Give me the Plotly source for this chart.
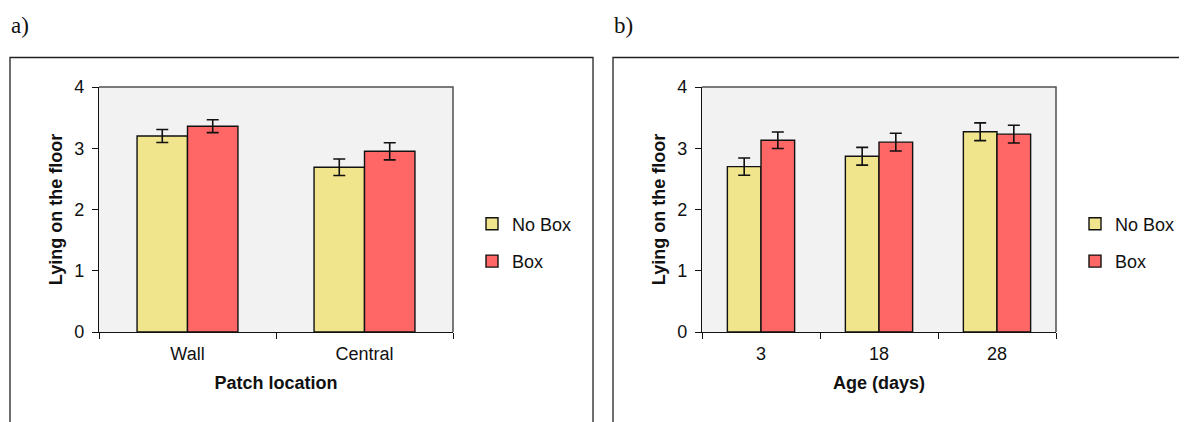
import plotly.graph_objects as go

W, H = 1187, 422
OFF = 8  # page body offset of the figure in the browser

# Panel a data
loc_categories = ["Wall", "Central"]
loc_nobox = [3.20, 2.69]
loc_nobox_err = [0.105, 0.135]
loc_box = [3.36, 2.95]
loc_box_err = [0.105, 0.14]

# Panel b data
age_categories = ["3", "18", "28"]
age_nobox = [2.70, 2.87, 3.27]
age_nobox_err = [0.14, 0.145, 0.145]
age_box = [3.13, 3.10, 3.23]
age_box_err = [0.135, 0.145, 0.145]

y_ticks = [0, 1, 2, 3, 4]
series_names = ["No Box", "Box"]
colors = ["#F0E48C", "#FF6666"]

FONT = "Liberation Sans, Arial, sans-serif"

def px_x(p):
    return (p - OFF) / W

def px_y(p):
    return (H - (p - OFF)) / H

fig = go.Figure()

def add_bars(cats, vals, errs, name, color, xa, ya, legend):
    fig.add_trace(go.Bar(
        x=cats, y=vals, name=name,
        marker=dict(color=color, line=dict(color="#111111", width=1.4)),
        error_y=dict(type="data", array=errs, color="#111111", thickness=1.6, width=6),
        xaxis=xa, yaxis=ya, legend=legend, legendgroup=name,
    ))

add_bars(loc_categories, loc_nobox, loc_nobox_err, series_names[0], colors[0], "x", "y", "legend")
add_bars(loc_categories, loc_box, loc_box_err, series_names[1], colors[1], "x", "y", "legend")
add_bars(age_categories, age_nobox, age_nobox_err, series_names[0], colors[0], "x2", "y2", "legend2")
add_bars(age_categories, age_box, age_box_err, series_names[1], colors[1], "x2", "y2", "legend2")

ydom = [px_y(332), px_y(87)]

def xaxis_cfg(dom, title, anchor):
    return dict(
        domain=dom, anchor=anchor, type="category", automargin=False,
        showline=True, linecolor="#111111", linewidth=1.4, mirror=False,
        ticks="outside", tickson="boundaries", ticklen=6, tickcolor="#111111", tickwidth=1.4,
        ticklabelstandoff=5,
        tickfont=dict(family=FONT, size=18, color="#111111"),
        title=dict(text=title, font=dict(family=FONT, size=18, color="#111111", weight="bold"), standoff=13),
        showgrid=False, zeroline=False, fixedrange=True,
    )

def yaxis_cfg(anchor):
    return dict(
        domain=ydom, anchor=anchor, range=[0, 4], tickvals=y_ticks, automargin=False,
        showline=True, linecolor="#111111", linewidth=1.4,
        ticks="outside", ticklen=6, tickcolor="#111111", tickwidth=1.4,
        ticklabelstandoff=4,
        tickfont=dict(family=FONT, size=18, color="#111111"),
        title=dict(text="Lying on the floor", font=dict(family=FONT, size=18, color="#111111", weight="bold"), standoff=6),
        showgrid=False, zeroline=False, fixedrange=True,
    )

shapes = []
# outer panel frames
for left, right in [(10, 593), (613, 1210)]:
    shapes.append(dict(type="rect", xref="paper", yref="paper",
                       x0=px_x(left), x1=px_x(right), y0=px_y(440), y1=px_y(57.5),
                       line=dict(color="#222222", width=1.3), fillcolor="rgba(0,0,0,0)", layer="below"))
# plot area backgrounds + frames
for xr, yr in [("x domain", "y domain"), ("x2 domain", "y2 domain")]:
    shapes.append(dict(type="rect", xref=xr, yref=yr, x0=0, x1=1, y0=0, y1=1,
                       fillcolor="#F2F2F2", line=dict(width=0), layer="below"))
    shapes.append(dict(type="path", xref=xr, yref=yr, path="M 0,1 L 1,1 L 1,0",
                       line=dict(color="#505050", width=1.5), layer="above"))

legend_common = dict(
    font=dict(family=FONT, size=18, color="#111111"),
    bgcolor="rgba(0,0,0,0)", borderwidth=0,
    yanchor="middle", xanchor="left",
    traceorder="grouped", tracegroupgap=11,
    itemclick=False, itemdoubleclick=False,
)

fig.update_layout(
    width=W, height=H,
    margin=dict(l=0, r=0, t=0, b=0, autoexpand=False),
    paper_bgcolor="white", plot_bgcolor="rgba(0,0,0,0)",
    barmode="group", bargap=0.43, bargroupgap=0,
    showlegend=True,
    xaxis=xaxis_cfg([px_x(99), px_x(453)], "Patch location", "y"),
    yaxis=yaxis_cfg("x"),
    xaxis2=xaxis_cfg([px_x(702), px_x(1056)], "Age (days)", "y2"),
    yaxis2=yaxis_cfg("x2"),
    legend=dict(x=px_x(472), y=px_y(242.5), **legend_common),
    legend2=dict(x=px_x(1075), y=px_y(242.5), **legend_common),
    shapes=shapes,
    annotations=[
        dict(text="a)", xref="paper", yref="paper", x=px_x(9), y=px_y(25), xanchor="left", yanchor="middle",
             showarrow=False, font=dict(family="Liberation Serif, Times New Roman, serif", size=23, color="#111111")),
        dict(text="b)", xref="paper", yref="paper", x=px_x(612), y=px_y(25), xanchor="left", yanchor="middle",
             showarrow=False, font=dict(family="Liberation Serif, Times New Roman, serif", size=23, color="#111111")),
    ],
)

fig.write_html("out.html")
